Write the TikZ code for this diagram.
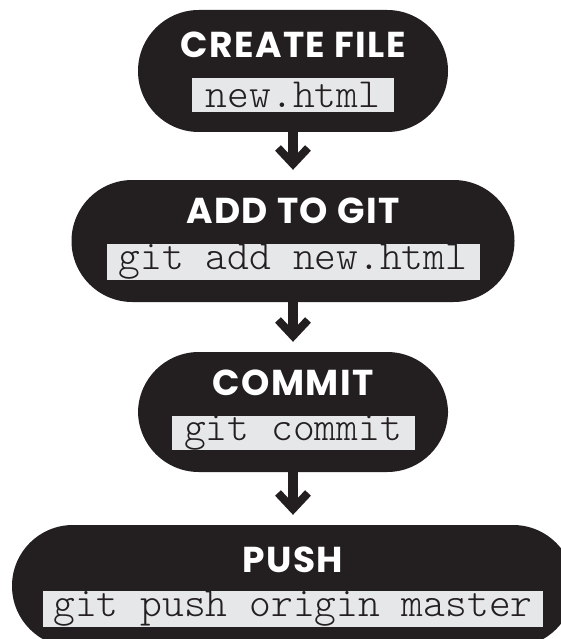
\documentclass[tikz,border=0pt]{standalone}
\usepackage{fontspec}
\setmainfont{Poppins}[LetterSpace=4]
\setmonofont{Latin Modern Mono Light}
\usetikzlibrary{arrows.meta}

\definecolor{pillblack}{HTML}{231F20}
\definecolor{cmdgray}{HTML}{E6E7E8}

\tikzset{
    pill/.style={fill=pillblack, rounded corners=60.9pt, minimum height=122pt, inner sep=0pt},
    title/.style={text=white, inner sep=0pt, font=\bfseries\fontsize{36}{36}\selectfont},
    cmd/.style={fill=cmdgray, text=pillblack, inner sep=0pt, minimum height=34pt, font=\ttfamily\fontsize{41.5}{41.5}\selectfont},
    flow/.style={draw=pillblack, line width=10pt, shorten >=10pt, -{Straight Barb[length=16pt, width=30pt, line width=8pt]}}
}

\begin{document}
\begin{tikzpicture}[x=1pt, y=-1pt]
    \useasboundingbox (0, 0) rectangle (561, 639);

    \node[pill, minimum width=310pt] at (293, 71) (create) {};
    \node[pill, minimum width=443pt] at (293, 241) (add) {};
    \node[pill, minimum width=310pt, minimum height=120pt] at (293, 412) (commit) {};
    \node[pill, minimum width=562pt] at (293, 586) (push) {};

    \node[title] at (293, 45) (createtitle) {CREATE FILE};
    \node[cmd, minimum width=202pt] at (293, 95) (createcmd) {new.html};
    \node[title] at (293, 211) (addtitle) {ADD TO GIT};
    \node[cmd, minimum width=373pt] at (293, 262) (addcmd) {git add new.html};
    \node[title] at (293, 383) (committitle) {COMMIT};
    \node[cmd, minimum width=243pt] at (293, 433) (commitcmd) {git commit};
    \node[title] at (293, 560) (pushtitle) {PUSH};
    \node[cmd, minimum width=500pt] at (293, 609) (pushcmd) {git push origin master};

    \draw[flow] (create) -- (add);
    \draw[flow] (add) -- (commit);
    \draw[flow] (commit) -- (push);
\end{tikzpicture}
\end{document}
